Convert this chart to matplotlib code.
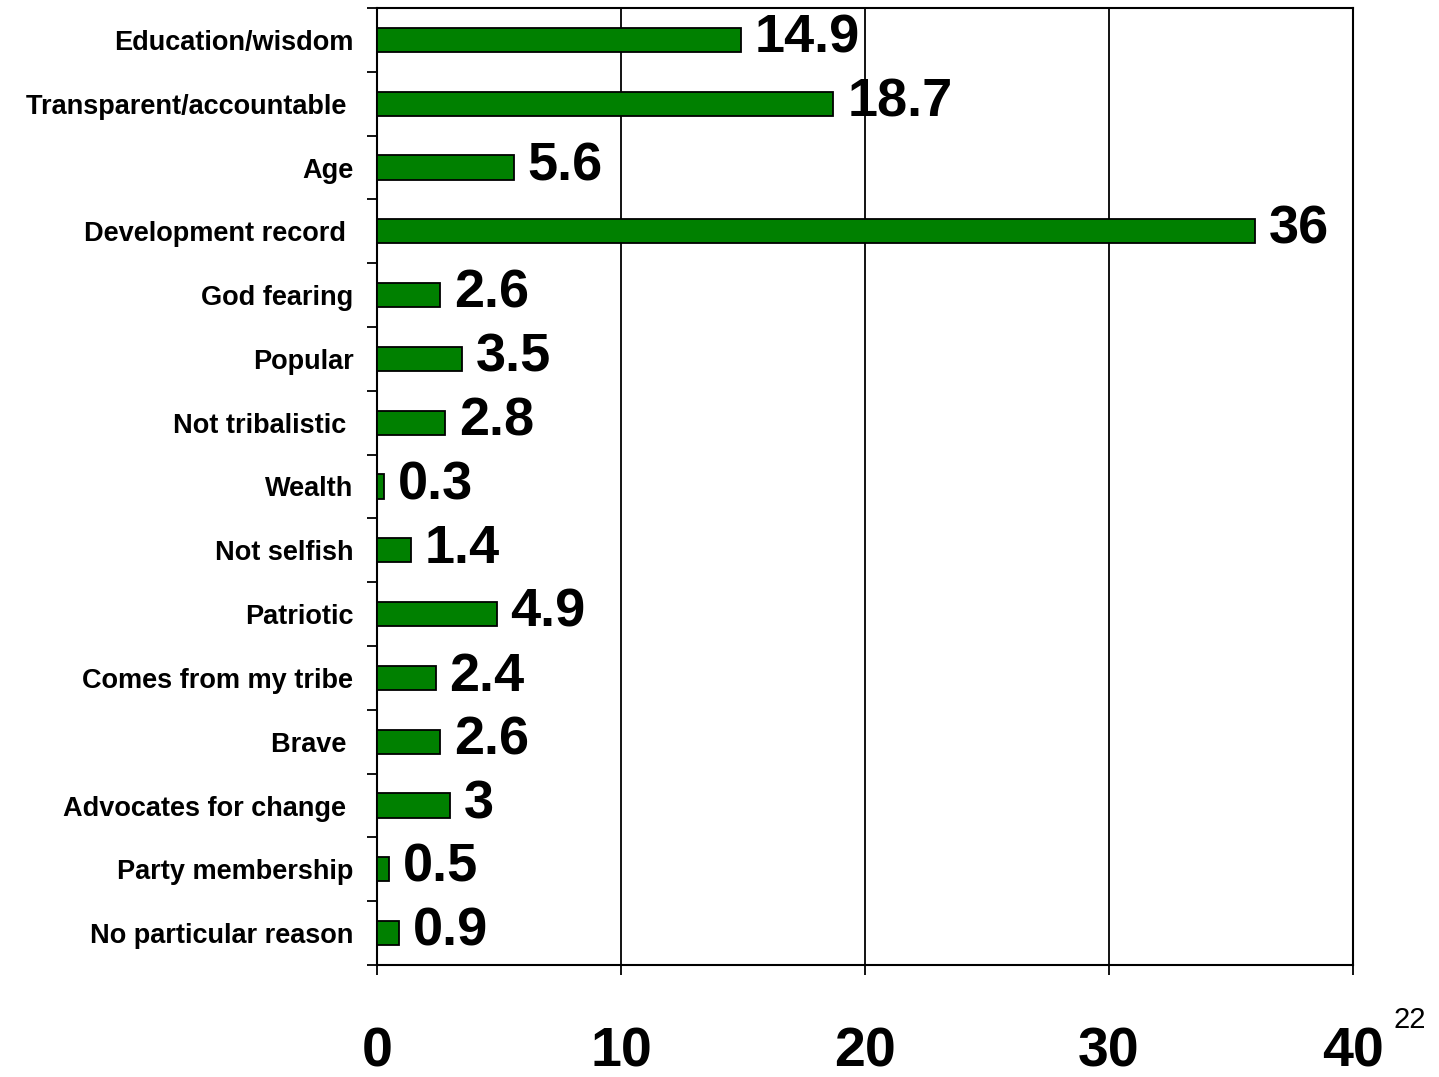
import numpy as np
import matplotlib
matplotlib.use("Agg")
import matplotlib.pyplot as plt

plt.rcParams['font.family'] = ['Liberation Sans', 'DejaVu Sans']

# categories top to bottom
categories = ["Education/wisdom", "Transparent/accountable ", "Age",
              "Development record ", "God fearing", "Popular",
              "Not tribalistic ", "Wealth", "Not selfish", "Patriotic",
              "Comes from my tribe", "Brave ", "Advocates for change ",
              "Party membership", "No particular reason"]
values = [14.9, 18.7, 5.6, 36, 2.6, 3.5, 2.8, 0.3, 1.4, 4.9, 2.4, 2.6, 3, 0.5, 0.9]
value_labels = ["14.9", "18.7", "5.6", "36", "2.6", "3.5", "2.8", "0.3",
                "1.4", "4.9", "2.4", "2.6", "3", "0.5", "0.9"]
xticks = [0, 10, 20, 30, 40]

fig = plt.figure(figsize=(14.39, 10.77), dpi=100)
ax = fig.add_axes([377 / 1439, 112 / 1077, 976 / 1439, 957 / 1077])

n = len(categories)
pos = np.arange(n)
ax.barh(pos, values, height=0.38, color="#008000", edgecolor="black",
        linewidth=1.3, zorder=3)

for p, v, lab in zip(pos, values, value_labels):
    ax.annotate(lab, (v, p), xytext=(10, 1), textcoords="offset points",
                ha="left", va="center", fontsize=39, fontweight="bold",
                zorder=4)

ax.set_xlim(0, 40)
ax.set_ylim(n - 0.5, -0.5)
ax.set_xticks(xticks)
ax.set_xticklabels([str(t) for t in xticks], fontsize=40, fontweight="bold")
ax.set_yticks(pos)
ax.set_yticklabels(categories, fontsize=19.5, fontweight="bold")
ax.set_yticks(np.arange(-0.5, n, 1.0), minor=True)

ax.tick_params(axis="y", which="major", length=0, pad=17)
ax.tick_params(axis="y", which="minor", length=7, width=1.3, direction="out")
ax.tick_params(axis="x", length=7, width=1.3, direction="out", pad=37)

ax.grid(axis="x", color="black", linewidth=1.3, zorder=0)
for s in ax.spines.values():
    s.set_linewidth(1.5)
    s.set_color("black")

fig.text(1410 / 1439, 1 - 1020 / 1077, "22", fontsize=21, ha="center", va="center")

fig.savefig("out.png", dpi=100)
